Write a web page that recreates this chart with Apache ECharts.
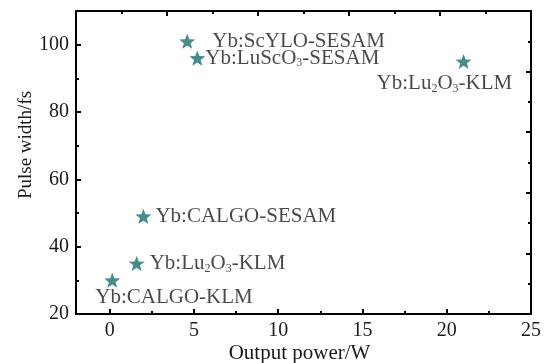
<!DOCTYPE html>
<html>
<head>
<meta charset="utf-8">
<script src="https://cdn.jsdelivr.net/npm/echarts@6/dist/echarts.min.js"></script>
<style>html,body{margin:0;padding:0;background:#fff}#c{width:554px;height:363px}</style>
</head>
<body>
<div id="c"></div>
<script>
var labels = ['Yb:ScYLO-SESAM', 'Yb:LuScO{s|3}-SESAM', 'Yb:Lu{s|2}O{s|3}-KLM', 'Yb:CALGO-SESAM', 'Yb:Lu{s|2}O{s|3}-KLM', 'Yb:CALGO-KLM'];
var outputPower = [4.6, 5.2, 21.0, 2.0, 1.6, 0.15];
var pulseWidth = [101, 96, 95, 49, 35, 30];
var xMajorTicks = [0, 5, 10, 15, 20, 25];
var xMinorTicks = [2.5, 7.5, 12.5, 17.5, 22.5];
var yMajorTicks = [20, 40, 60, 80, 100];
var yMinorTicks = [30, 50, 70, 90];

// label placement (style): offset of text left edge from star center
var labelPlacement = [[25, 0], [8, 0], [-87, 22], [12, 0], [13, 0], [-17, 17]];

function starPath() {
  var pts = [];
  for (var i = 0; i < 10; i++) {
    var r = i % 2 === 0 ? 50 : 21;
    var a = -Math.PI / 2 + i * Math.PI / 5;
    pts.push((50 + r * Math.cos(a)).toFixed(2) + ' ' + (50 + r * Math.sin(a)).toFixed(2));
  }
  return 'path://M' + pts.join(' L') + ' Z';
}

var FONT = 'Liberation Serif';
var TXT = '#1a1a1a';
function axLine() { return { show: true, onZero: false, lineStyle: { color: '#000', width: 2 } }; }
function noLine() { return { show: false, onZero: false }; }
function ts() { return { color: '#000', width: 2 }; }

var pts = outputPower.map(function (x, i) {
  return {
    value: [x, pulseWidth[i]],
    label: {
      show: true, position: 'inside', align: 'left', verticalAlign: 'middle',
      offset: labelPlacement[i], formatter: labels[i],
      fontFamily: FONT, fontSize: 21, lineHeight: 22, color: TXT,
      rich: { s: { fontFamily: FONT, fontSize: 12, color: TXT, lineHeight: 4, verticalAlign: 'bottom' } }
    }
  };
});

var chart = echarts.init(document.getElementById('c'), null, { renderer: 'canvas' });
chart.setOption({
  animation: false,
  backgroundColor: '#fff',
  grid: { left: 76, right: 23, top: 11, bottom: 49, containLabel: false, outerBoundsMode: 'none' },
  xAxis: [
    {
      type: 'value', position: 'bottom', min: -2, max: 25,
      axisLine: axLine(),
      axisTick: { show: true, inside: true, length: 5, customValues: xMajorTicks, lineStyle: ts() },
      axisLabel: { show: true, customValues: xMajorTicks, margin: 7, fontFamily: FONT, fontSize: 20, color: TXT },
      splitLine: { show: false },
      name: 'Output power/W', nameLocation: 'middle', nameGap: 29, nameMoveOverlap: false,
      nameTextStyle: { fontFamily: FONT, fontSize: 21, color: TXT, padding: [0, 8, 0, 0] }
    },
    {
      type: 'value', position: 'bottom', min: -2, max: 25,
      axisLine: noLine(),
      axisTick: { show: true, inside: true, length: 3, customValues: xMinorTicks, lineStyle: ts() },
      axisLabel: { show: false },
      splitLine: { show: false }
    },
    {
      type: 'value', position: 'top', min: 0, max: 10, interval: 2,
      axisLine: axLine(),
      axisTick: { show: true, inside: true, length: 5, lineStyle: ts() },
      minorTick: { show: true, splitNumber: 2, length: 3, lineStyle: ts() },
      axisLabel: { show: false },
      splitLine: { show: false }, minorSplitLine: { show: false }
    }
  ],
  yAxis: [
    {
      type: 'value', position: 'left', min: 20, max: 110,
      axisLine: axLine(),
      axisTick: { show: true, inside: true, length: 5, customValues: yMajorTicks, lineStyle: ts() },
      axisLabel: { show: true, customValues: yMajorTicks, margin: 7, fontFamily: FONT, fontSize: 20, color: TXT },
      splitLine: { show: false },
      name: 'Pulse width/fs', nameLocation: 'middle', nameGap: 40, nameRotate: 90, nameMoveOverlap: false,
      nameTextStyle: { fontFamily: FONT, fontSize: 19, color: TXT, padding: [0, 0, 0, 35] }
    },
    {
      type: 'value', position: 'left', min: 20, max: 110,
      axisLine: noLine(),
      axisTick: { show: true, inside: true, length: 3, customValues: yMinorTicks, lineStyle: ts() },
      axisLabel: { show: false },
      splitLine: { show: false }
    },
    {
      type: 'value', position: 'right', min: 0, max: 10, interval: 2,
      axisLine: axLine(),
      axisTick: { show: true, inside: true, length: 5, lineStyle: ts() },
      minorTick: { show: true, splitNumber: 2, length: 3, lineStyle: ts() },
      axisLabel: { show: false },
      splitLine: { show: false }, minorSplitLine: { show: false }
    }
  ],
  series: [
    {
      type: 'scatter', xAxisIndex: 0, yAxisIndex: 0,
      symbol: starPath(), symbolSize: [16, 15],
      itemStyle: { color: '#1a6e6e' },
      data: pts
    }
  ]
});
</script>
</body>
</html>
